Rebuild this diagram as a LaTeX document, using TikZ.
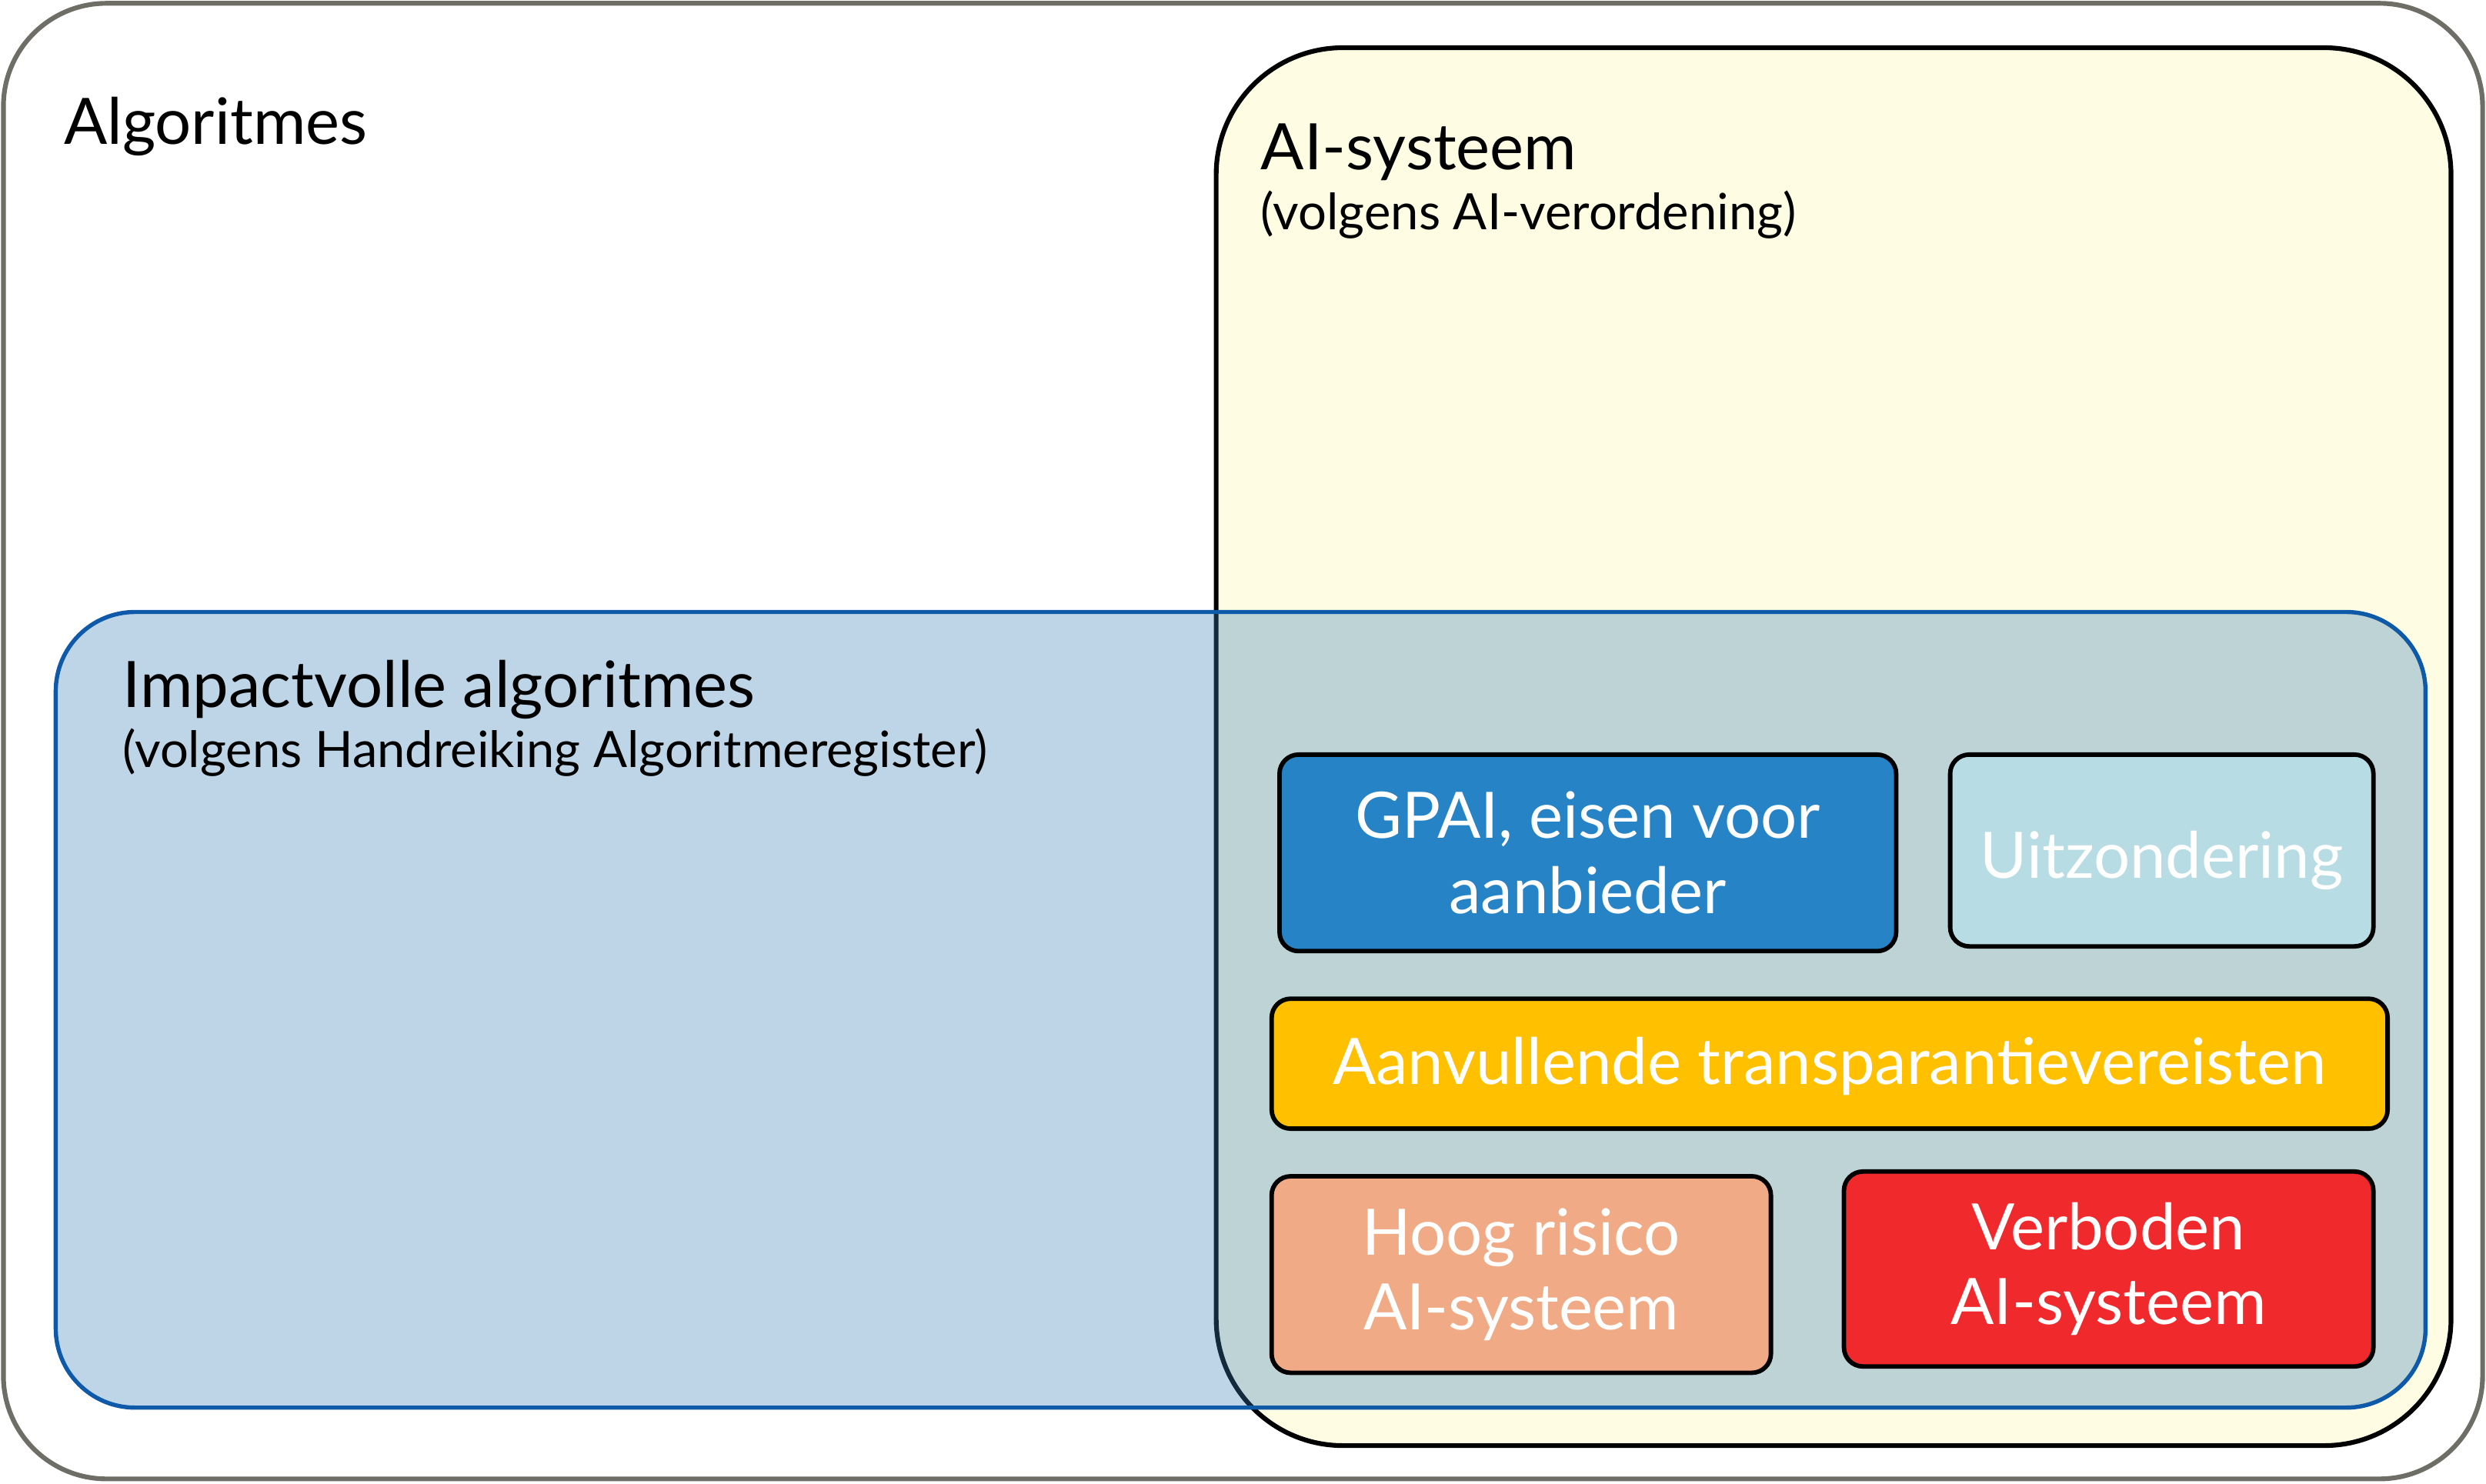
\documentclass[tikz,border=0pt]{standalone}
\usepackage{fontspec}
\setmainfont{Lato}
\usetikzlibrary{positioning}

\definecolor{randgrijs}{RGB}{110,110,102}
\definecolor{aigeel}{RGB}{254,252,227}
\definecolor{impblauw}{RGB}{15,90,168}
\definecolor{impvul}{RGB}{58,128,185}
\definecolor{gpaiblauw}{RGB}{38,131,198}
\definecolor{uitzblauw}{RGB}{184,220,228}
\definecolor{transgeel}{RGB}{255,192,0}
\definecolor{hoogoranje}{RGB}{240,170,133}
\definecolor{verbrood}{RGB}{240,41,45}

\begin{document}
\begin{tikzpicture}[x=0.02cm,y=-0.02cm,
    titel/.style={anchor=base west,inner sep=0pt,font=\fontsize{23}{28}\selectfont},
    sub/.style={anchor=base west,inner sep=0pt,font=\fontsize{18}{22}\selectfont},
    blok/.style={draw,line width=1.6pt,rounded corners=0.24cm,text=white,align=center,
        inner sep=0pt,font=\fontsize{23}{27}\selectfont}]
    \useasboundingbox (0,0) rectangle (1568,936);

    % grote vlakken
    \node[draw=randgrijs,line width=1.7pt,rounded corners=1.3cm,minimum width=31.28cm,minimum height=18.62cm] (A) at (784,467.5) {};
    \node[draw,fill=aigeel,line width=1.7pt,rounded corners=1.6cm,minimum width=15.58cm,minimum height=17.64cm] (S) at (1156.5,471) {};
    \node[draw=impblauw,fill=impvul,fill opacity=0.33,line width=1.5pt,rounded corners=1cm,minimum width=29.9cm,minimum height=10.04cm] (I) at (782.5,637) {};

    \node[titel] (At) at (40,91) {Algoritmes};
    \node[titel] (St) at (795,107) {AI-systeem};
    \node[sub] (Ss) at (795,145) {(volgens AI-verordening)};
    \node[titel] (It) at (77,446) {Impactvolle algoritmes};
    \node[sub] (Is) at (77,484) {(volgens Handreiking Algoritmeregister)};

    % blokken
    \node[blok,fill=gpaiblauw,minimum width=7.78cm,minimum height=2.48cm] (G) at (1001.5,538) {GPAI, eisen voor\\aanbieder};
    \node[blok,fill=uitzblauw,minimum width=5.34cm,minimum height=2.42cm,text height=0.85cm,text depth=0.15cm] (U) at (1363.5,536.5) {Uitzondering};
    \node[blok,fill=transgeel,minimum width=14.08cm,minimum height=1.64cm,text height=0.7cm,text depth=0.18cm] (T) at (1154,671) {Aanvullende transparantievereisten};
    \node[blok,fill=hoogoranje,minimum width=6.3cm,minimum height=2.48cm] (H) at (959.5,804) {Hoog risico\\AI-systeem};
    \node[blok,fill=verbrood,minimum width=6.68cm,minimum height=2.46cm] (V) at (1330,800.5) {Verboden\\AI-systeem};
\end{tikzpicture}
\end{document}
